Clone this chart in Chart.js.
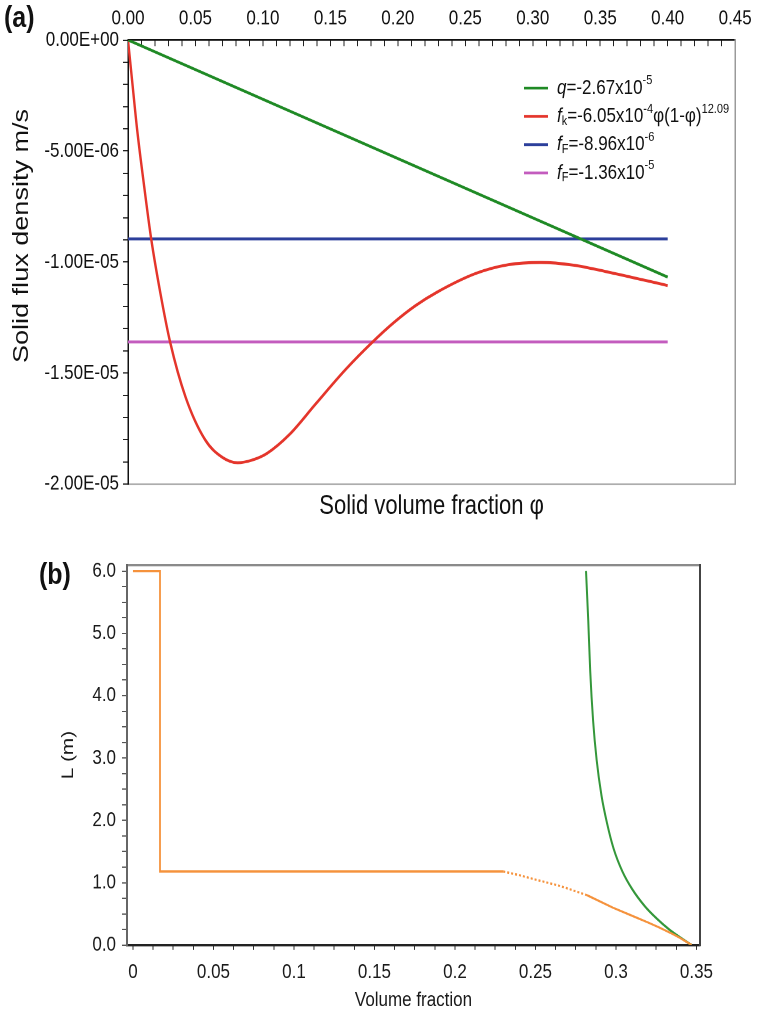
<!DOCTYPE html>
<html>
<head>
<meta charset="utf-8">
<script src="https://cdn.jsdelivr.net/npm/chart.js@4.4.1/dist/chart.umd.min.js"></script>
<style>
  body { margin: 0; background: #fff; width: 764px; height: 1019px; position: relative; overflow: hidden;
         font-family: "Liberation Sans", Arial, sans-serif; }
  canvas { position: absolute; left: 0; transform-origin: 0 0; }
  /* both panels are drawn a little squat and stretched upright */
  #chartA { top: 0; transform: scaleY(1.2207); }
  #chartB { top: 520px; transform: scaleY(1.2200); }
  .panel { position: absolute; font-weight: bold; font-size: 25px; color: #111;
           transform: scaleY(1.2); transform-origin: 0 0; }
  .ytitle { position: absolute; white-space: nowrap; font-size: 22px; color: #111; line-height: 1;
            transform: translate(-50%, -50%) rotate(-90deg) scaleX(1.23); }
</style>
</head>
<body>
<canvas id="chartA" width="764" height="426"></canvas>
<canvas id="chartB" width="764" height="409"></canvas>
<div class="panel" style="left:4px; top:-1px;">(a)</div>
<div class="panel" style="left:39px; top:556px;">(b)</div>
<div class="ytitle" style="left:21px; top:236px;">Solid flux density m/s</div>
<script>
const FONT = '"Liberation Sans", Arial, sans-serif';
const kA = 520 / 426;   // vertical stretch of panel (a)
const kB = 499 / 409;   // vertical stretch of panel (b)

// ---- panel (a): solid flux vs solid volume fraction ----
const xMajorA = [0, 0.05, 0.10, 0.15, 0.20, 0.25, 0.30, 0.35, 0.40, 0.45];
const yMajorA = [0, -5e-6, -1e-5, -1.5e-5, -2e-5];

const qLine = [{x: 0, y: 0}, {x: 0.40, y: -1.068e-5}];
const fF1 = [{x: 0, y: -8.96e-6}, {x: 0.40, y: -8.96e-6}];
const fF2 = [{x: 0, y: -1.36e-5}, {x: 0.40, y: -1.36e-5}];

const fkPhi = [0, 0.0035, 0.0068, 0.012, 0.0172, 0.024, 0.0312, 0.0426, 0.0571, 0.070, 0.0813,
               0.092, 0.103, 0.120, 0.139, 0.161, 0.181, 0.197, 0.213, 0.229, 0.258, 0.282, 0.306,
               0.330, 0.355, 0.400];
const fkVal = [0, -2.1e-6, -4.05e-6, -6.6e-6, -8.96e-6, -1.14e-5, -1.36e-5, -1.607e-5, -1.80e-5,
               -1.88e-5, -1.904e-5, -1.892e-5, -1.862e-5, -1.775e-5, -1.64e-5, -1.486e-5, -1.362e-5,
               -1.273e-5, -1.197e-5, -1.136e-5, -1.051e-5, -1.012e-5, -1.002e-5, -1.014e-5, -1.044e-5,
               -1.106e-5];
const fkCurve = fkPhi.map((p, i) => ({x: p, y: fkVal[i]}));

const legendRows = [
  [{t: 'q', it: true}, {t: '=-2.67x10'}, {t: '-5', sup: true}],
  [{t: 'f', it: true}, {t: 'k', sub: true}, {t: '=-6.05x10'}, {t: '-4', sup: true}, {t: 'φ(1-φ)'}, {t: '12.09', sup: true}],
  [{t: 'f', it: true}, {t: 'F', sub: true}, {t: '=-8.96x10'}, {t: '-6', sup: true}],
  [{t: 'f', it: true}, {t: 'F', sub: true}, {t: '=-1.36x10'}, {t: '-5', sup: true}]
];

// ---- panel (b): L vs volume fraction ----
const xMajorB = [0, 0.05, 0.1, 0.15, 0.2, 0.25, 0.3, 0.35];
const yMajorB = [0, 1, 2, 3, 4, 5, 6];

const orangePhi = [0, 0.0168, 0.0168, 0.23, 0.24, 0.25, 0.265, 0.282, 0.298, 0.31, 0.32, 0.327,
                   0.335, 0.34, 0.347];
const orangeL = [6.0, 6.0, 1.18, 1.18, 1.12, 1.05, 0.95, 0.80, 0.60, 0.47, 0.36, 0.28, 0.18, 0.11, 0.0];
const greenPhi = [0.2814, 0.2828, 0.2840, 0.2858, 0.2880, 0.2910, 0.2945, 0.2985, 0.3040, 0.3100,
                  0.3180, 0.3255, 0.3330, 0.3400, 0.3470];
const greenL = [6.0, 5.2, 4.4, 3.6, 2.97, 2.40, 1.95, 1.55, 1.18, 0.90, 0.62, 0.42, 0.25, 0.12, 0.0];

// tick helpers: minor ticks between majors, labels only on majors
function stepTicks(lo, hi, step) {
  const out = [];
  const n = Math.round((hi - lo) / step);
  for (let i = 0; i <= n; i++) out.push(+(lo + i * step).toPrecision(8));
  return out;
}
function isMajor(v, majors, step) {
  return majors.some(m => Math.abs(m - v) < step * 0.01);
}
function sci(v) {
  if (Math.abs(v) < 1e-15) return '0.00E+00';
  const e = Math.floor(Math.log10(Math.abs(v)) + 1e-9);
  const m = v / Math.pow(10, e);
  return m.toFixed(2) + 'E' + (e < 0 ? '-' : '+') + String(Math.abs(e)).padStart(2, '0');
}

const xTicksA = stepTicks(0, 0.45, 0.01);
const yTicksA = stepTicks(-2e-5, 0, 1e-6);
const xTicksB = stepTicks(0, 0.35, 0.0125);
const yTicksB = stepTicks(0, 6, 0.25);

// legend with sub/superscripts
const richLegend = {
  id: 'richLegend',
  afterDatasetsDraw(chart) {
    const ctx = chart.ctx;
    ctx.save();
    legendRows.forEach((runs, i) => {
      const ds = chart.data.datasets[i];
      const y = (88 + i * 28.3) / kA;
      ctx.strokeStyle = ds.borderColor;
      ctx.lineWidth = 2.3;
      ctx.beginPath();
      ctx.moveTo(524, y);
      ctx.lineTo(548, y);
      ctx.stroke();
      let x = 557;
      ctx.fillStyle = '#111';
      ctx.textBaseline = 'middle';
      runs.forEach(r => {
        const small = r.sub || r.sup;
        ctx.font = (r.it ? 'italic ' : '') + (small ? 11 : 17) + 'px ' + FONT;
        const dy = r.sup ? -6 : (r.sub ? 4 : 0);
        ctx.fillText(r.t, x, y + dy);
        x += ctx.measureText(r.t).width;
      });
    });
    ctx.restore();
  }
};

new Chart(document.getElementById('chartA'), {
  type: 'line',
  data: {
    datasets: [
      {label: 'q', data: qLine, borderColor: '#1f8a25'},
      {label: 'fk', data: fkCurve, borderColor: '#e4352b', cubicInterpolationMode: 'monotone'},
      {label: 'fF1', data: fF1, borderColor: '#2c3f9b'},
      {label: 'fF2', data: fF2, borderColor: '#c35cbe'}
    ]
  },
  options: {
    responsive: false,
    animation: false,
    devicePixelRatio: 2,
    layout: {padding: {left: 0, right: 16, top: 0, bottom: 0}},
    elements: {point: {radius: 0}, line: {borderWidth: 2.4, fill: false}},
    plugins: {legend: {display: false}, tooltip: {enabled: false}},
    scales: {
      x: {
        type: 'linear', position: 'top', min: 0, max: 0.45,
        afterFit: s => { s.height = 40 / kA; },
        afterBuildTicks: s => { s.ticks = xTicksA.map(v => ({value: v})); },
        ticks: {
          autoSkip: false, maxRotation: 0, padding: 12.3, color: '#111',
          font: {size: 17, family: FONT},
          callback: v => isMajor(v, xMajorA, 0.01) ? v.toFixed(2) : ''
        },
        grid: {drawOnChartArea: false, tickLength: -5, color: '#222'},
        border: {color: '#111', width: 1.4}
      },
      x2: {
        type: 'linear', position: 'bottom', min: 0, max: 0.45,
        afterFit: s => { s.height = 36 / kA; },
        ticks: {display: false},
        grid: {drawOnChartArea: false, drawTicks: false},
        border: {color: '#a8a8a8', width: 1.4},
        title: {display: true, text: 'Solid volume fraction φ', color: '#111',
                font: {size: 22, family: FONT, lineHeight: 1}, padding: {top: 0, bottom: 0}}
      },
      y: {
        type: 'linear', position: 'left', min: -2e-5, max: 0,
        afterFit: s => { s.width = 128; },
        afterBuildTicks: s => { s.ticks = yTicksA.map(v => ({value: v})); },
        ticks: {
          autoSkip: false, padding: 4, color: '#111',
          font: {size: 17, family: FONT},
          callback: v => isMajor(v, yMajorA, 1e-6) ? sci(v) : ''
        },
        grid: {drawOnChartArea: false, tickLength: 5, color: '#222'},
        border: {color: '#111', width: 1.5}
      },
      y2: {
        type: 'linear', position: 'right', min: -2e-5, max: 0,
        afterFit: s => { s.width = 0; },
        ticks: {display: false},
        grid: {drawOnChartArea: false, drawTicks: false},
        border: {color: '#9a9a9a', width: 1.5}
      }
    }
  },
  plugins: [richLegend]
});

new Chart(document.getElementById('chartB'), {
  type: 'line',
  data: {
    datasets: [
      {
        label: 'orange', data: orangePhi.map((p, i) => ({x: p, y: orangeL[i]})),
        borderColor: '#f5923c', borderWidth: 1.8,
        segment: {borderDash: c => (c.p0.parsed.x >= 0.229 && c.p0.parsed.x < 0.27) ? [2, 2] : undefined}
      },
      {
        label: 'green', data: greenPhi.map((p, i) => ({x: p, y: greenL[i]})),
        borderColor: '#34973a', borderWidth: 2, cubicInterpolationMode: 'monotone'
      }
    ]
  },
  options: {
    responsive: false,
    animation: false,
    devicePixelRatio: 2,
    layout: {padding: {left: 0, right: 64, top: 45 / kB, bottom: 0}},
    elements: {point: {radius: 0}, line: {fill: false}},
    plugins: {legend: {display: false}, tooltip: {enabled: false}},
    scales: {
      x: {
        type: 'linear', position: 'bottom', min: -0.0037, max: 0.3522,
        afterFit: s => { s.height = 74 / kB; },
        afterBuildTicks: s => { s.ticks = xTicksB.map(v => ({value: v})); },
        ticks: {
          autoSkip: false, maxRotation: 0, padding: 8.5, color: '#1a1a1a',
          font: {size: 17, family: FONT},
          callback: v => isMajor(v, xMajorB, 0.0125) ? String(+v.toFixed(2)) : ''
        },
        grid: {drawOnChartArea: false, tickLength: 4, color: '#333'},
        border: {color: '#222', width: 2},
        title: {display: true, text: 'Volume fraction', color: '#1a1a1a',
                font: {size: 17, family: FONT}, padding: {top: 0, bottom: 5}}
      },
      x2: {
        type: 'linear', position: 'top', min: -0.0037, max: 0.3522,
        afterFit: s => { s.height = 0; },
        ticks: {display: false},
        grid: {drawOnChartArea: false, drawTicks: false},
        border: {color: '#8a8a8a', width: 2}
      },
      y: {
        type: 'linear', position: 'left', min: 0, max: 6.097,
        afterFit: s => { s.width = 127; },
        afterBuildTicks: s => { s.ticks = yTicksB.map(v => ({value: v})); },
        ticks: {
          autoSkip: false, padding: 6, color: '#1a1a1a',
          font: {size: 17, family: FONT},
          callback: v => isMajor(v, yMajorB, 0.25) ? v.toFixed(1) : ''
        },
        grid: {drawOnChartArea: false, tickLength: 5, color: '#555'},
        border: {color: '#666', width: 2},
        title: {display: true, text: 'L (m)', color: '#1a1a1a',
                font: {size: 17, family: FONT}, padding: {top: 58, bottom: 0}}
      },
      y2: {
        type: 'linear', position: 'right', min: 0, max: 6.097,
        afterFit: s => { s.width = 0; },
        ticks: {display: false},
        grid: {drawOnChartArea: false, drawTicks: false},
        border: {color: '#444', width: 2}
      }
    }
  }
});
</script>
</body>
</html>
